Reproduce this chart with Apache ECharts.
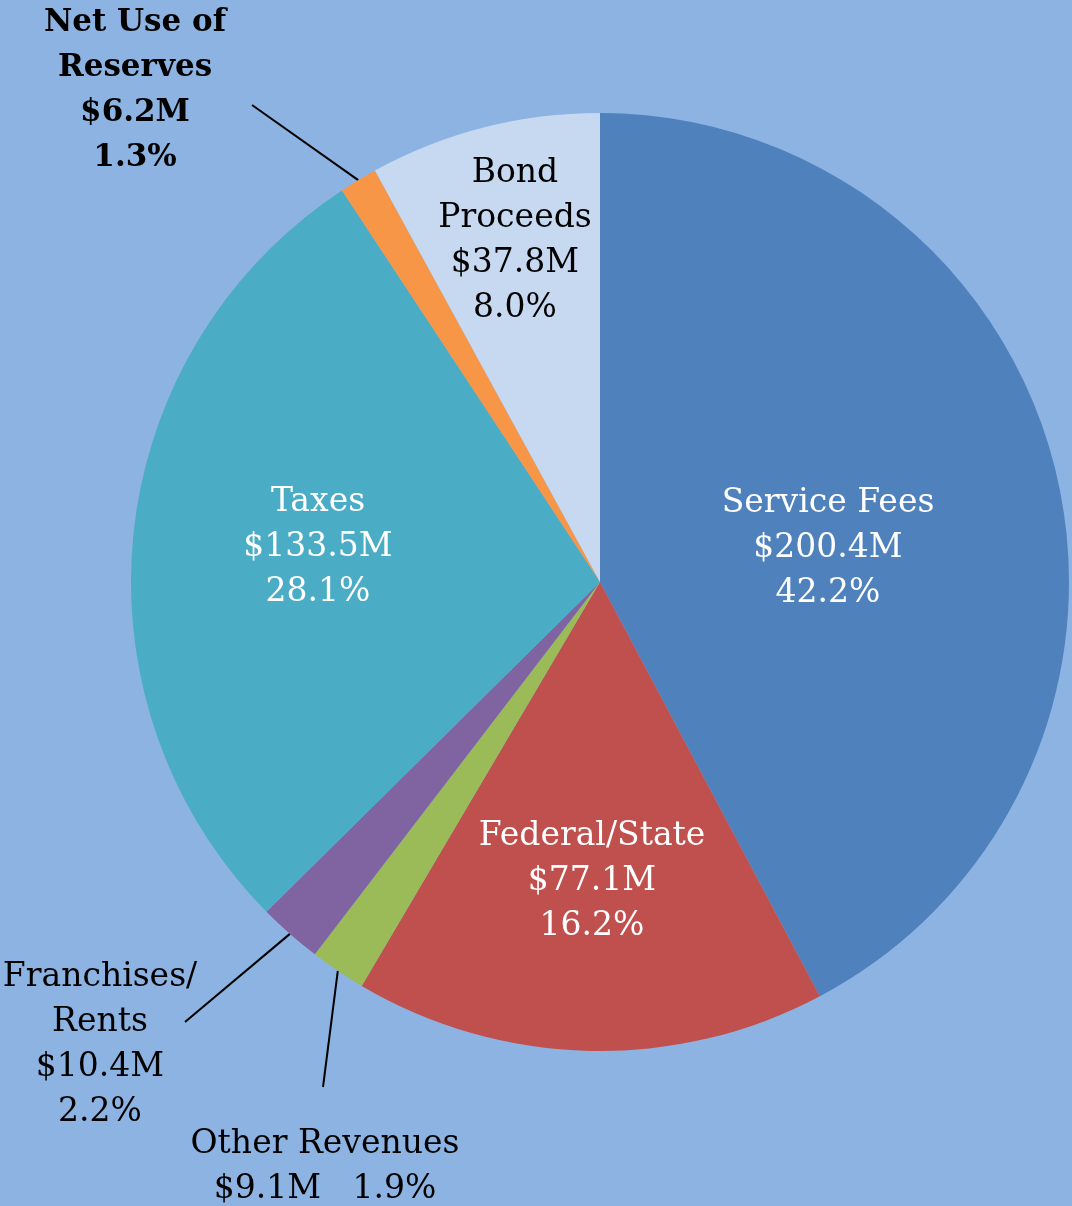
<!DOCTYPE html>
<html>
<head>
<meta charset="utf-8">
<script src="https://cdn.jsdelivr.net/npm/echarts@6/dist/echarts.min.js"></script>
<style>
  html, body { margin: 0; padding: 0; background: #8db3e2; }
  #chart { width: 1072px; height: 1206px; }
</style>
</head>
<body>
<div id="chart"></div>
<script>
// slices clockwise from 12 o'clock
const names = ['Service Fees', 'Federal/State', 'Other Revenues', 'Franchises/\nRents', 'Taxes', 'Net Use of\nReserves', 'Bond\nProceeds']
const amounts = [200.4, 77.1, 9.1, 10.4, 133.5, 6.2, 37.8]
const percents = ['42.2%', '16.2%', '1.9%', '2.2%', '28.1%', '1.3%', '8.0%']
const colors = ['#4f81bd', '#c0504d', '#9bbb59', '#8064a2', '#4bacc6', '#f79646', '#c6d9f1']

// where each label sits, and where its leader line ends (if any)
const labelPos = [
  {x: 828, y: 548},
  {x: 592, y: 881},
  {x: 325, y: 1167, lineEnd: [323, 1087]},
  {x: 100, y: 1045, lineEnd: [185, 1022]},
  {x: 318, y: 547},
  {x: 135, y: 90, lineEnd: [252, 105]},
  {x: 515, y: 241}
]

const textColor = ['#fff', '#fff', '#000', '#000', '#fff', '#000', '#000']

let myChart = echarts.init(document.getElementById('chart'))

let pieData = names.map((n, i) => {
  let outside = !!labelPos[i].lineEnd
  let text = n === 'Other Revenues'
    ? n + '\n$' + amounts[i] + 'M   ' + percents[i]
    : n + '\n$' + amounts[i] + 'M\n' + percents[i]
  return {
    name: n,
    value: amounts[i],
    itemStyle: {color: colors[i]},
    label: {
      position: outside ? 'outside' : 'inside',
      formatter: text,
      color: textColor[i],
      fontWeight: i === 5 ? 'bold' : 'normal',
      fontSize: i === 5 ? 31 : 33,
      lineHeight: 45
    },
    labelLine: {show: outside, length: 10, length2: 10}
  }
})

myChart.setOption({
  backgroundColor: '#8db3e2',
  animation: false,
  series: [
    {
      type: 'pie',
      center: [600, 582],
      radius: [0, 469],
      startAngle: 90,
      clockwise: true,
      data: pieData,
      label: {
        show: true,
        fontFamily: '"DejaVu Serif", serif',
        align: 'center'
      },
      labelLine: {
        lineStyle: {color: '#000', width: 2}
      },
      emphasis: {disabled: true},
      labelLayout: (params) => {
        let p = labelPos[params.dataIndex]
        let res = {x: p.x, y: p.y, align: 'center', verticalAlign: 'middle', hideOverlap: false}
        if (p.lineEnd && params.labelLinePoints) {
          let start = params.labelLinePoints[0]
          res.labelLinePoints = [start, p.lineEnd, p.lineEnd]
        }
        return res
      }
    }
  ]
})
</script>
</body>
</html>
